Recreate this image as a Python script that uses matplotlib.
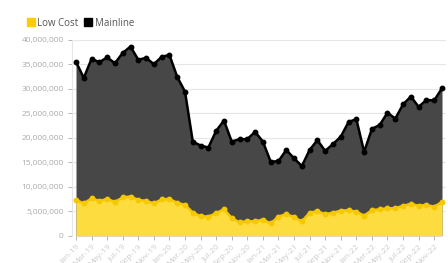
import matplotlib.pyplot as plt
from matplotlib.lines import Line2D
import numpy as np

# ---------------------------
# Data (monthly passengers, Jan-19 .. Dec-22)
# ---------------------------
months = [f"{m}-{y}" for y in ["19", "20", "21", "22"]
          for m in ["Jan", "Feb", "Mar", "Apr", "May", "Jun",
                    "Jul", "Aug", "Sep", "Oct", "Nov", "Dec"]]

mainline = [35.5, 32.2, 36.1, 35.4, 36.4, 35.2, 37.3, 38.6, 35.9, 36.3, 35.0, 36.5,
            36.9, 32.4, 29.4, 19.2, 18.4, 18.0, 21.4, 23.5, 19.2, 19.7, 19.7, 21.2,
            19.2, 15.1, 15.2, 17.5, 15.8, 14.2, 17.5, 19.5, 17.3, 18.7, 20.2, 23.2,
            23.8, 17.1, 21.8, 22.6, 25.1, 23.9, 26.8, 28.4, 26.3, 27.7, 27.6, 30.1]

low_cost = [7.3, 6.6, 7.6, 7.1, 7.5, 6.9, 7.8, 8.0, 7.3, 7.1, 6.6, 7.4,
            7.5, 6.7, 6.3, 4.7, 4.0, 3.9, 4.6, 5.4, 3.6, 2.7, 3.0, 2.9,
            3.3, 2.5, 3.9, 4.4, 3.8, 2.9, 4.7, 5.0, 4.4, 4.7, 5.1, 5.2,
            4.9, 4.1, 5.2, 5.4, 5.6, 5.6, 6.1, 6.5, 6.1, 6.3, 5.9, 6.9]

mainline = np.array(mainline) * 1e6
low_cost = np.array(low_cost) * 1e6
x = np.arange(len(months))

# ---------------------------
# Plot
# ---------------------------
plt.rcParams['font.family'] = ['Open Sans', 'DejaVu Sans']

fig = plt.figure(figsize=(4.48, 2.63), dpi=100)
ax = fig.add_axes([72.1 / 448, 27.3 / 263, 373.8 / 448, 196 / 263])

ax.fill_between(x, mainline, color="#474747", lw=0, zorder=2)
ax.plot(x, mainline, color="black", lw=1.8, marker="o", ms=3.2, zorder=3)
ax.fill_between(x, low_cost, color="#FDDC3F", lw=0, zorder=4)
ax.plot(x, low_cost, color="#F5C800", lw=1.8, marker="o", ms=3.2, zorder=5)

ax.set_xlim(-0.5, len(months) - 0.5)
ax.set_ylim(0, 40e6)
ax.set_yticks(np.arange(0, 40e6 + 1, 5e6))
ax.set_yticklabels([f"{int(v):,}" for v in np.arange(0, 40e6 + 1, 5e6)])
ax.set_xticks(x[::2])
ax.set_xticklabels(months[::2], rotation=45, ha="right", rotation_mode="anchor")

ax.grid(axis="y", color="#e6e6e6", lw=0.8, zorder=0)
for s in ["top", "right", "bottom"]:
    ax.spines[s].set_visible(False)
ax.spines["left"].set_color("#e6e6e6")
ax.tick_params(axis="both", colors="#aaaaaa", labelsize=6, length=3, width=0.6)
ax.tick_params(axis="y", labelcolor="#aaaaaa", pad=3)
ax.tick_params(axis="x", labelcolor="#cccccc", pad=2)

handles = [Line2D([], [], marker="s", color="#FFCC00", ls="", ms=6),
           Line2D([], [], marker="s", color="black", ls="", ms=6)]
fig.legend(handles, ["Low Cost", "Mainline"], loc="upper left",
           bbox_to_anchor=(18 / 448, 1 - 9 / 263), ncol=2, frameon=False,
           fontsize=7, handlelength=0.8, handletextpad=0.3, columnspacing=0.6,
           labelcolor="#555555")

plt.savefig("out.png", dpi=100)
